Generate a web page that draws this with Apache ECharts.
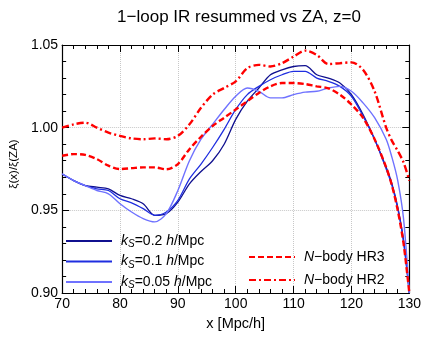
<!DOCTYPE html>
<html>
<head>
<meta charset="utf-8">
<script src="https://cdn.jsdelivr.net/npm/echarts@6/dist/echarts.min.js"></script>
<style>
  html, body { margin: 0; padding: 0; background: #fff; }
  #chart { width: 424px; height: 340px; }
</style>
</head>
<body>
<div id="chart"></div>
<script>
// x 值 (Mpc/h)
const xs = [70, 72, 74, 76, 78, 80, 82, 84, 86, 88, 90, 92, 94, 96, 98, 100, 102, 104, 106, 108, 110, 112, 114, 116, 118, 120, 122, 124, 126, 127, 128, 129, 130]

// 各条曲线 ξ(x)/ξ(ZA)
const ks02 = [0.972, 0.968, 0.965, 0.964, 0.963, 0.959, 0.957, 0.954, 0.947, 0.948, 0.955, 0.966, 0.9735, 0.980, 0.990, 1.005, 1.016, 1.024, 1.032, 1.035, 1.037, 1.0375, 1.032, 1.030, 1.027, 1.020, 1.008, 0.993, 0.976, 0.966, 0.952, 0.932, 0.900]
const ks01 = [0.972, 0.968, 0.965, 0.963, 0.962, 0.957, 0.9545, 0.951, 0.947, 0.949, 0.956, 0.969, 0.978, 0.988, 0.999, 1.011, 1.020, 1.025, 1.029, 1.032, 1.034, 1.034, 1.030, 1.028, 1.025, 1.019, 1.007, 0.993, 0.975, 0.965, 0.951, 0.931, 0.900]
const ks005 = [0.972, 0.968, 0.965, 0.962, 0.960, 0.954, 0.949, 0.945, 0.943, 0.948, 0.962, 0.980, 0.993, 1.002, 1.011, 1.019, 1.024, 1.022, 1.018, 1.018, 1.020, 1.0215, 1.022, 1.024, 1.025, 1.022, 1.015, 1.006, 0.993, 0.982, 0.968, 0.945, 0.900]
const hr3 = [0.983, 0.984, 0.9835, 0.981, 0.977, 0.975, 0.9755, 0.976, 0.976, 0.9748, 0.978, 0.987, 0.9945, 1.001, 1.006, 1.011, 1.016, 1.021, 1.025, 1.027, 1.027, 1.0264, 1.025, 1.0238, 1.020, 1.014, 1.006, 0.993, 0.976, 0.965, 0.950, 0.930, 0.900]
const hr2 = [1.000, 1.002, 1.003, 1.000, 0.997, 0.995, 0.9935, 0.993, 0.9935, 0.993, 0.995, 1.002, 1.012, 1.020, 1.024, 1.028, 1.036, 1.038, 1.037, 1.039, 1.043, 1.0466, 1.044, 1.0385, 1.039, 1.0395, 1.035, 1.022, 1.000, 0.992, 0.986, 0.979, 0.968]

// 坐标轴刻度
const xTicks = [70, 80, 90, 100, 110, 120, 130]
const yTicks = [0.90, 0.95, 1.00, 1.05]

const FONT = 'Liberation Sans'
const pairs = ys => xs.map((x, i) => [x, ys[i]])

const legendNames = {
  'ks02': '{i|k}{s|S}=0.2 {i|h}/Mpc',
  'ks01': '{i|k}{s|S}=0.1 {i|h}/Mpc',
  'ks005': '{i|k}{s|S}=0.05 {i|h}/Mpc',
  'hr3': '{i|N}\u2212body HR3',
  'hr2': '{i|N}\u2212body HR2'
}
const rich = {
  i: { fontStyle: 'italic', fontSize: 14, fontFamily: FONT, color: '#000' },
  s: { fontStyle: 'italic', fontSize: 10, fontFamily: FONT, color: '#000', padding: [7, 0, 0, 0] }
}

const lineSeries = (name, data, color, width, type) => ({
  name: name,
  type: 'line',
  data: pairs(data),
  symbol: 'none',
  smooth: 0.3,
  clip: true,
  lineStyle: { color: color, width: width, type: type },
  itemStyle: { color: color },
  z: 3
})

const sideAxis = (pos, isX) => ({
  type: 'value',
  position: pos,
  min: isX ? 70 : 0.9,
  max: isX ? 130 : 1.05,
  interval: isX ? 10 : 0.05,
  axisLine: { show: true, lineStyle: { color: '#000', width: 1.2 } },
  axisTick: { show: true, inside: true, length: 7, lineStyle: { color: '#000' } },
  minorTick: { show: true, splitNumber: 5, length: 4, lineStyle: { color: '#000' } },
  axisLabel: { show: false },
  splitLine: { show: false }
})

const legendBase = {
  orient: 'vertical',
  itemWidth: 46,
  itemHeight: 14,
  itemStyle: { opacity: 0 },
  formatter: n => legendNames[n],
  textStyle: { fontFamily: FONT, fontSize: 14, color: '#000', rich: rich, padding: [0, 0, 0, 4] }
}

const chart = echarts.init(document.getElementById('chart'))
chart.setOption({
  animation: false,
  title: {
    text: '1\u2212loop IR resummed vs ZA, z=0',
    left: 234,
    textAlign: 'center',
    top: 4,
    textStyle: { fontFamily: FONT, fontSize: 17, fontWeight: 'normal', color: '#000' }
  },
  grid: { left: 57, right: 14, top: 45, bottom: 47 },
  xAxis: [
    {
      type: 'value',
      min: 70, max: 130, interval: 10,
      name: 'x [Mpc/h]',
      nameLocation: 'middle',
      nameGap: 23,
      nameTextStyle: { fontFamily: FONT, fontSize: 14.5, color: '#000' },
      axisLine: { show: true, lineStyle: { color: '#000', width: 1.2 } },
      axisTick: { show: true, inside: true, length: 7, lineStyle: { color: '#000' } },
      minorTick: { show: true, splitNumber: 5, length: 4, lineStyle: { color: '#000' } },
      axisLabel: { fontFamily: FONT, fontSize: 14, color: '#000', margin: 4,
        formatter: v => xTicks.includes(v) ? String(v) : '' },
      splitLine: { show: true, lineStyle: { color: '#c8c8c8', type: 'dotted' } }
    },
    sideAxis('top', true)
  ],
  yAxis: [
    {
      type: 'value',
      min: 0.9, max: 1.05, interval: 0.05,
      name: '\u03be(x)/\u03be(ZA)',
      nameLocation: 'middle',
      nameRotate: 90,
      nameGap: 38,
      nameTextStyle: { fontFamily: FONT, fontSize: 11.5, color: '#000', padding: [0, 0, 0, 10] },
      axisLine: { show: true, lineStyle: { color: '#000', width: 1.2 } },
      axisTick: { show: true, inside: true, length: 7, lineStyle: { color: '#000' } },
      minorTick: { show: true, splitNumber: 5, length: 4, lineStyle: { color: '#000' } },
      axisLabel: { fontFamily: FONT, fontSize: 14, color: '#000', margin: 4,
        formatter: v => {
          const t = yTicks.find(y => Math.abs(y - v) < 1e-6)
          return t === undefined ? '' : t.toFixed(2)
        } },
      splitLine: { show: true, lineStyle: { color: '#c8c8c8', type: 'dotted' } }
    },
    sideAxis('right', false)
  ],
  legend: [
    Object.assign({}, legendBase, {
      data: ['ks02', 'ks01', 'ks005'],
      left: 60, top: 229, itemGap: 5
    }),
    Object.assign({}, legendBase, {
      data: ['hr3', 'hr2'],
      left: 243, top: 245, itemGap: 9
    })
  ],
  series: [
    lineSeries('ks02', ks02, '#10108f', 1.3, 'solid'),
    lineSeries('ks01', ks01, '#1f2ee0', 1.3, 'solid'),
    lineSeries('ks005', ks005, '#6f72ff', 1.4, 'solid'),
    lineSeries('hr3', hr3, '#ff0000', 2.4, [6, 3]),
    lineSeries('hr2', hr2, '#ff0000', 2.4, [7, 3, 2, 3])
  ]
})
</script>
</body>
</html>
